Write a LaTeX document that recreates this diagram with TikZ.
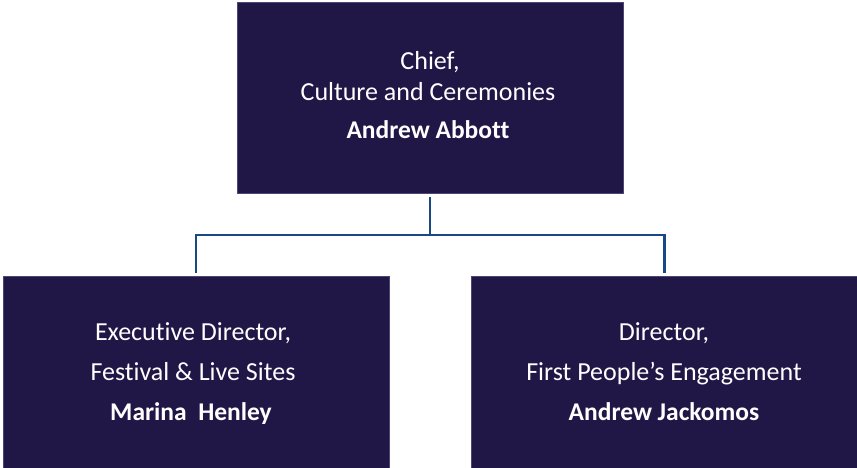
\documentclass[tikz,border=0pt]{standalone}
\usepackage{fontspec}
\setmainfont{Carlito}[Ligatures={NoCommon}]
\definecolor{boxfill}{HTML}{201747}
\definecolor{boxline}{HTML}{4B4676}
\definecolor{linkblue}{HTML}{1A4884}
\tikzset{
  orgbox/.style={draw=boxline, line width=0.8pt, fill=boxfill, minimum width=386pt, inner sep=0pt, outer sep=0pt},
  roletext/.style={anchor=base, text=white, font=\fontsize{26}{30}\selectfont, inner sep=0pt},
  nametext/.style={anchor=base, text=white, font=\bfseries\fontsize{25.5}{29}\selectfont, inner sep=0pt},
  link/.style={draw=linkblue, line width=2.8pt}
}
\begin{document}
\begin{tikzpicture}[x=1pt,y=-1pt]
\useasboundingbox (0,0) rectangle (857,467);
\node[orgbox, minimum height=191pt] (top) at (430,97.5) {};
\node[orgbox, minimum height=194pt] (left) at (196,373) {};
\node[orgbox, minimum height=194pt] (right) at (664.5,373) {};
\node[roletext] (t1) at (430,69) {Chief,};
\node[roletext] (t2) at (428,100) {Culture and Ceremonies};
\node[nametext] (t3) at (428,138) {Andrew Abbott};
\node[roletext] (l1) at (193,340) {Executive Director,};
\node[roletext] (l2) at (193,380) {Festival \& Live Sites};
\node[nametext] (l3) at (191,420) {Marina\ \ Henley};
\node[roletext] (r1) at (664,340) {Director,};
\node[roletext] (r2) at (664,380) {First People’s Engagement};
\node[nametext] (r3) at (664,420) {Andrew Jackomos};
\coordinate (j) at (430,235);
\draw[link] ([yshift=-4pt]top.south) -- (j);
\draw[link] ([yshift=3pt]left.north) |- (j) -| ([yshift=3pt]right.north);
\end{tikzpicture}
\end{document}
